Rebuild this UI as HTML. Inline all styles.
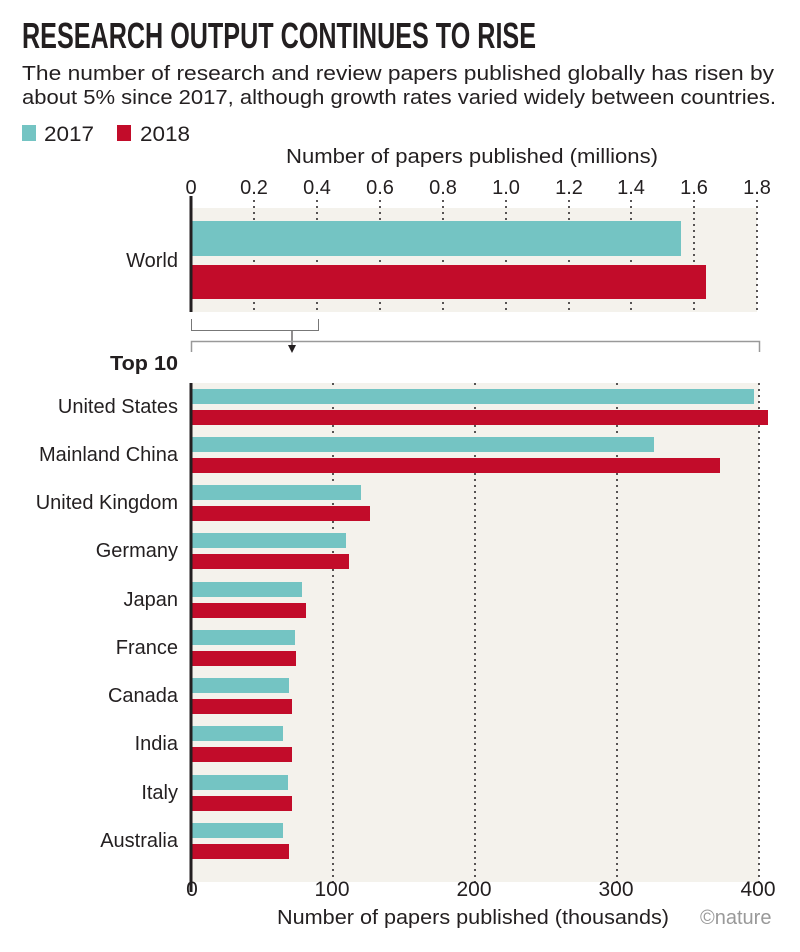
<!DOCTYPE html>
<html><head><meta charset="utf-8"><style>
body{margin:0;background:#fff}
text{font-family:"Liberation Sans Narrow","Liberation Sans",sans-serif;fill:#231f20}
</style></head><body>
<svg width="800" height="947" xmlns="http://www.w3.org/2000/svg">
<text x="22" y="48" font-size="36" font-weight="bold" textLength="514" lengthAdjust="spacingAndGlyphs">RESEARCH OUTPUT CONTINUES TO RISE</text>
<text x="22" y="80" font-size="20" textLength="752" lengthAdjust="spacingAndGlyphs">The number of research and review papers published globally has risen by</text>
<text x="22" y="104" font-size="20" textLength="754" lengthAdjust="spacingAndGlyphs">about 5% since 2017, although growth rates varied widely between countries.</text>
<rect x="22" y="125" width="14" height="16" fill="#74c4c3"/>
<text x="44" y="141" font-size="21" textLength="50" lengthAdjust="spacingAndGlyphs">2017</text>
<rect x="117" y="125" width="14" height="16" fill="#c20c2a"/>
<text x="140" y="141" font-size="21" textLength="50" lengthAdjust="spacingAndGlyphs">2018</text>
<text x="472" y="163" font-size="20" text-anchor="middle" textLength="372" lengthAdjust="spacingAndGlyphs">Number of papers published (millions)</text>
<g font-size="20" text-anchor="middle">
<text x="191" y="194">0</text><text x="254" y="194">0.2</text><text x="317" y="194">0.4</text><text x="380" y="194">0.6</text><text x="443" y="194">0.8</text><text x="506" y="194">1.0</text><text x="569" y="194">1.2</text><text x="631" y="194">1.4</text><text x="694" y="194">1.6</text><text x="757" y="194">1.8</text>
</g>
<rect x="191" y="208" width="566" height="104" fill="#f4f2ec"/>
<g stroke="#231f20" stroke-width="1.5" stroke-dasharray="2,4">
<line x1="254" y1="200" x2="254" y2="312"/><line x1="317" y1="200" x2="317" y2="312"/><line x1="380" y1="200" x2="380" y2="312"/><line x1="443" y1="200" x2="443" y2="312"/><line x1="506" y1="200" x2="506" y2="312"/><line x1="569" y1="200" x2="569" y2="312"/><line x1="631" y1="200" x2="631" y2="312"/><line x1="694" y1="200" x2="694" y2="312"/><line x1="757" y1="200" x2="757" y2="312"/>
</g>
<rect x="191" y="221" width="490" height="35" fill="#74c4c3"/>
<rect x="191" y="265" width="515" height="34" fill="#c20c2a"/>
<line x1="191" y1="196" x2="191" y2="312" stroke="#231f20" stroke-width="3"/>
<text x="178" y="267" font-size="20" text-anchor="end">World</text>
<path d="M191.5 319V330.5H318.5V319" fill="none" stroke="#777" stroke-width="1"/>
<line x1="292" y1="331" x2="292" y2="348" stroke="#231f20"/>
<path d="M288 345L292 353L296 345Z" fill="#231f20"/>
<path d="M191.5 352V341.5H759.5V352" fill="none" stroke="#999" stroke-width="1.5"/>
<text x="178" y="370" font-size="20" font-weight="bold" text-anchor="end" textLength="68" lengthAdjust="spacingAndGlyphs">Top 10</text>
<rect x="191" y="383" width="568" height="499" fill="#f4f2ec"/>
<g stroke="#231f20" stroke-width="1.5" stroke-dasharray="2,4">
<line x1="333" y1="383" x2="333" y2="882"/><line x1="475" y1="383" x2="475" y2="882"/><line x1="617" y1="383" x2="617" y2="882"/><line x1="759" y1="383" x2="759" y2="882"/>
</g>
<g fill="#74c4c3">
<rect x="191" y="389" width="563" height="15"/><rect x="191" y="437" width="463" height="15"/><rect x="191" y="485" width="170" height="15"/><rect x="191" y="533" width="155" height="15"/><rect x="191" y="582" width="111" height="15"/><rect x="191" y="630" width="104" height="15"/><rect x="191" y="678" width="98" height="15"/><rect x="191" y="726" width="92" height="15"/><rect x="191" y="775" width="97" height="15"/><rect x="191" y="823" width="92" height="15"/>
</g>
<g fill="#c20c2a">
<rect x="191" y="410" width="577" height="15"/><rect x="191" y="458" width="529" height="15"/><rect x="191" y="506" width="179" height="15"/><rect x="191" y="554" width="158" height="15"/><rect x="191" y="603" width="115" height="15"/><rect x="191" y="651" width="105" height="15"/><rect x="191" y="699" width="101" height="15"/><rect x="191" y="747" width="101" height="15"/><rect x="191" y="796" width="101" height="15"/><rect x="191" y="844" width="98" height="15"/>
</g>
<line x1="191" y1="383" x2="191" y2="892" stroke="#231f20" stroke-width="3"/>
<g font-size="20" text-anchor="end">
<text x="178" y="413">United States</text><text x="178" y="461">Mainland China</text><text x="178" y="509">United Kingdom</text><text x="178" y="557">Germany</text><text x="178" y="606">Japan</text><text x="178" y="654">France</text><text x="178" y="702">Canada</text><text x="178" y="750">India</text><text x="178" y="799">Italy</text><text x="178" y="847">Australia</text>
</g>
<g font-size="21" text-anchor="middle">
<text x="192" y="896">0</text><text x="332" y="896">100</text><text x="474" y="896">200</text><text x="616" y="896">300</text><text x="758" y="896">400</text>
</g>
<text x="277" y="924" font-size="20" textLength="392" lengthAdjust="spacingAndGlyphs">Number of papers published (thousands)</text>
<text x="700" y="924" font-size="20" fill="#999" style="fill:#999" font-family="Liberation Serif,serif">©nature</text>
</svg>
</body></html>
